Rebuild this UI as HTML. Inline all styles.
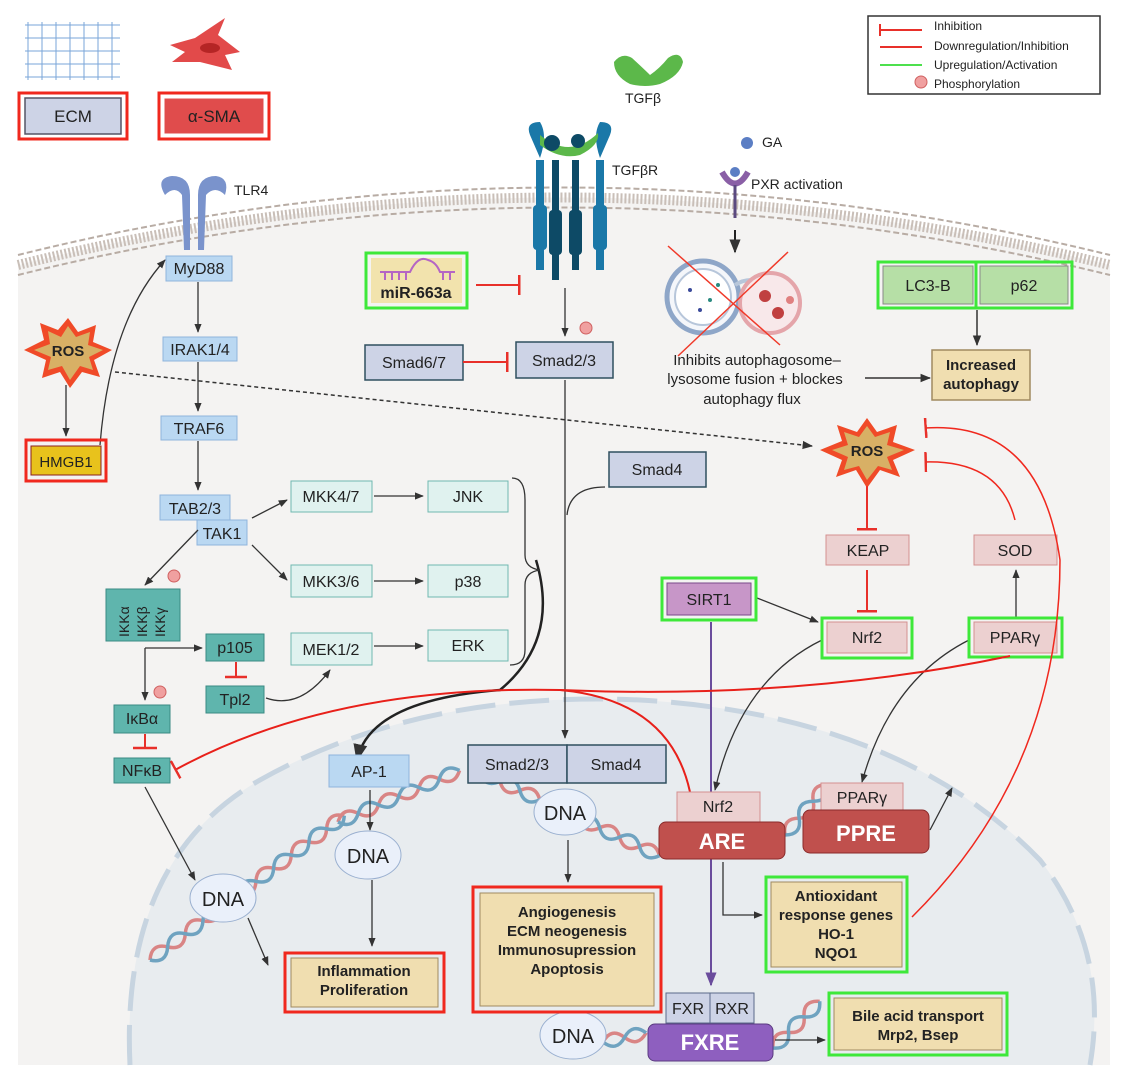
<!DOCTYPE html>
<html><head><meta charset="utf-8"><style>
html,body{margin:0;padding:0;background:#fff;}
svg{display:block;font-family:"Liberation Sans",sans-serif;}
</style></head><body>
<svg width="1128" height="1080" viewBox="0 0 1128 1080" xmlns="http://www.w3.org/2000/svg">
<defs>
<marker id="a" viewBox="0 0 10 10" refX="9" refY="5" markerWidth="7" markerHeight="7" orient="auto"><path d="M0,1 L10,5 L0,9z" fill="#333"/></marker>
<marker id="ap" viewBox="0 0 10 10" refX="9" refY="5" markerWidth="7" markerHeight="7" orient="auto"><path d="M0,1 L10,5 L0,9z" fill="#6a4c9c"/></marker>
<marker id="t" viewBox="0 0 4 20" refX="2" refY="10" markerWidth="4" markerHeight="20" markerUnits="userSpaceOnUse" orient="auto"><rect x="0" y="0" width="2.5" height="20" fill="#e8302a"/></marker>
<path id="h11a" d="M0,0 q11,-13 22,0 t22,0 t22,0 t22,0 t22,0 t22,0 t22,0 t22,0 t22,0 t22,0 t22,0"/>
<path id="h11b" d="M0,0 q11,13 22,0 t22,0 t22,0 t22,0 t22,0 t22,0 t22,0 t22,0 t22,0 t22,0 t22,0"/>
<path id="h6a" d="M0,0 q11,-13 22,0 t22,0 t22,0 t22,0 t22,0 t22,0"/>
<path id="h6b" d="M0,0 q11,13 22,0 t22,0 t22,0 t22,0 t22,0 t22,0"/>
<path id="h9a" d="M0,0 q11,-13 22,0 t22,0 t22,0 t22,0 t22,0 t22,0 t22,0 t22,0 t22,0"/>
<path id="h9b" d="M0,0 q11,13 22,0 t22,0 t22,0 t22,0 t22,0 t22,0 t22,0 t22,0 t22,0"/>
<path id="h3a" d="M0,0 q11,-13 22,0 t22,0 t22,0"/>
<path id="h3b" d="M0,0 q11,13 22,0 t22,0 t22,0"/>
<path id="h2a" d="M0,0 q11,-13 22,0 t22,0"/>
<path id="h2b" d="M0,0 q11,13 22,0 t22,0"/>
</defs>
<!-- cell -->
<path d="M18,265 Q560,130 1110,265 L1110,1065 L18,1065 Z" fill="#f4f3f2"/>
<path d="M18,265 Q560,130 1110,265" fill="none" stroke="#c9bfb8" stroke-width="10" stroke-dasharray="2 2"/>
<path d="M18,255 Q560,120 1110,255" fill="none" stroke="#b8aca4" stroke-width="2" stroke-dasharray="6 3"/>
<path d="M18,275 Q560,140 1110,275" fill="none" stroke="#b8aca4" stroke-width="2" stroke-dasharray="6 3"/>
<rect x="1112" y="430" width="16" height="650" fill="#fff"/>
<!-- nucleus -->
<path d="M130,1065 Q120,860 260,780 Q420,690 640,700 Q900,715 1040,860 Q1110,950 1090,1065 Z" fill="#e8ecef"/>
<path d="M130,1065 Q120,860 260,780 Q420,690 640,700 Q900,715 1040,860 Q1110,950 1090,1065" fill="none" stroke="#c7d4e0" stroke-width="5" stroke-dasharray="40 14"/>

<!-- legend -->
<rect x="868" y="16" width="232" height="78" fill="#fff" stroke="#333" stroke-width="1.5"/>
<line x1="880" y1="30" x2="922" y2="30" stroke="#e8302a" stroke-width="2"/><line x1="880" y1="24" x2="880" y2="36" stroke="#e8302a" stroke-width="2"/>
<line x1="880" y1="47" x2="922" y2="47" stroke="#e8302a" stroke-width="2"/>
<line x1="880" y1="65" x2="922" y2="65" stroke="#4de04d" stroke-width="2"/>
<circle cx="921" cy="82" r="6" fill="#f0a0a0" stroke="#d06060"/>
<g font-size="12" fill="#222"><text x="934" y="30">Inhibition</text><text x="934" y="50">Downregulation/Inhibition</text><text x="934" y="69">Upregulation/Activation</text><text x="934" y="88">Phosphorylation</text></g>

<!-- ECM mesh -->
<g stroke="#7aa6d8" stroke-width="1" fill="none">
<path d="M25,25 H120 M25,38 H120 M25,51 H120 M25,64 H120 M25,77 H120"/>
<path d="M28,22 V80 M42,22 V80 M56,22 V80 M70,22 V80 M84,22 V80 M98,22 V80 M112,22 V80"/>
</g>
<path d="M170,45 L195,38 L225,18 L218,35 L240,52 L225,55 L232,70 L200,62 L172,62 L185,52 Z" fill="#e24a4a"/>
<ellipse cx="210" cy="48" rx="10" ry="5" fill="#b52525"/>
<rect x="19" y="93" width="108" height="46" fill="none" stroke="#f0281e" stroke-width="3"/>
<rect x="25" y="98" width="96" height="36" fill="#cdd3e6" stroke="#556" stroke-width="1.5"/>
<text x="73" y="122" font-size="17" text-anchor="middle" fill="#222">ECM</text>
<rect x="159" y="93" width="110" height="46" fill="none" stroke="#f0281e" stroke-width="3"/>
<rect x="164" y="98" width="100" height="36" fill="#e04c4c" stroke="#fff" stroke-width="1"/>
<text x="214" y="122" font-size="17" text-anchor="middle" fill="#222">α-SMA</text>

<!-- TGFb -->
<path d="M614,62 Q622,52 632,58 Q645,70 650,75 Q660,68 668,58 Q680,50 683,62 Q680,76 660,84 Q645,88 630,84 Q614,76 614,62Z" fill="#5cb84a"/>
<text x="643" y="103" font-size="14" text-anchor="middle" fill="#222">TGFβ</text>
<g>
<rect x="536" y="160" width="8" height="110" fill="#1a78a8"/><rect x="533" y="205" width="14" height="45" rx="4" fill="#1a78a8"/>
<rect x="596" y="160" width="8" height="110" fill="#1a78a8"/><rect x="593" y="205" width="14" height="45" rx="4" fill="#1a78a8"/>
<rect x="552" y="160" width="7" height="120" fill="#0d4a66"/><rect x="549" y="210" width="13" height="45" rx="4" fill="#0d4a66"/>
<rect x="572" y="160" width="7" height="110" fill="#0d4a66"/><rect x="569" y="210" width="13" height="45" rx="4" fill="#0d4a66"/>
<path d="M530,135 Q525,122 540,122 Q548,135 540,158 Z M610,135 Q615,122 600,122 Q592,135 600,158Z" fill="#1a78a8"/>
<path d="M540,135 Q570,160 598,133 Q600,145 580,155 Q560,160 540,145Z" fill="#5cb84a"/>
<circle cx="552" cy="143" r="8" fill="#0d4a66"/><circle cx="578" cy="141" r="7" fill="#0d4a66"/>
</g>
<text x="612" y="175" font-size="14" fill="#222">TGFβR</text>
<circle cx="747" cy="143" r="6" fill="#5b7ec4"/><text x="762" y="147" font-size="14" fill="#222">GA</text>
<path d="M722,172 Q735,195 748,172" fill="none" stroke="#8a5fa6" stroke-width="6"/><circle cx="735" cy="172" r="5" fill="#5b7ec4"/>
<line x1="735" y1="185" x2="735" y2="218" stroke="#5b4a80" stroke-width="3"/>
<text x="751" y="189" font-size="14" fill="#222">PXR activation</text>
<line x1="735" y1="230" x2="735" y2="252" stroke="#222" stroke-width="2" marker-end="url(#a)"/>
<circle cx="703" cy="297" r="36" fill="#f4f6fa" stroke="#8ea6c8" stroke-width="5"/>
<circle cx="703" cy="297" r="28" fill="#fff" stroke="#b7c6da" stroke-width="2"/>
<path d="M735,285 Q750,275 770,285" fill="none" stroke="#b7c6da" stroke-width="4"/>
<circle cx="770" cy="303" r="30" fill="#f8e8ea" stroke="#e4a5aa" stroke-width="4"/>
<circle cx="765" cy="296" r="6" fill="#c04040"/><circle cx="778" cy="313" r="6" fill="#c04040"/><circle cx="790" cy="300" r="4" fill="#e08080"/>
<circle cx="690" cy="290" r="2" fill="#3b4a9a"/><circle cx="710" cy="300" r="2" fill="#2a8a80"/><circle cx="700" cy="310" r="2" fill="#3b4a9a"/><circle cx="718" cy="285" r="2" fill="#2a8a80"/>
<line x1="668" y1="246" x2="780" y2="345" stroke="#f03a2a" stroke-width="1.5"/><line x1="788" y1="252" x2="678" y2="356" stroke="#f03a2a" stroke-width="1.5"/>
<g font-size="15" fill="#222" text-anchor="middle"><text x="757" y="365">Inhibits autophagosome–</text><text x="755" y="384">lysosome fusion + blockes</text><text x="752" y="404">autophagy flux</text></g>
<line x1="865" y1="378" x2="930" y2="378" stroke="#333" stroke-width="1.5" marker-end="url(#a)"/>
<rect x="878" y="262" width="194" height="46" fill="none" stroke="#3ee83a" stroke-width="3"/>
<rect x="883" y="266" width="90" height="38" fill="#b6dfa6" stroke="#888"/><rect x="980" y="266" width="88" height="38" fill="#b6dfa6" stroke="#888"/>
<line x1="976" y1="262" x2="976" y2="308" stroke="#3ee83a" stroke-width="3"/>
<text x="928" y="291" font-size="16" text-anchor="middle" fill="#222">LC3-B</text><text x="1024" y="291" font-size="16" text-anchor="middle" fill="#222">p62</text>
<line x1="977" y1="310" x2="977" y2="345" stroke="#333" stroke-width="1.5" marker-end="url(#a)"/>
<rect x="932" y="350" width="98" height="50" fill="#f0deb0" stroke="#a08a60" stroke-width="1.5"/>
<text x="981" y="370" font-size="15" font-weight="bold" text-anchor="middle" fill="#222">Increased</text><text x="981" y="389" font-size="15" font-weight="bold" text-anchor="middle" fill="#222">autophagy</text>

<!-- TLR4 -->
<path d="M165,195 Q155,178 172,176 Q190,176 190,195 L190,250 L198,250 L198,195 Q198,176 216,176 Q230,178 225,195 Q215,185 206,195 L204,250 L184,250 L182,195 Q175,185 165,195Z" fill="#7a93cc"/>
<text x="234" y="195" font-size="14" fill="#222">TLR4</text>
<g font-size="16" fill="#222" text-anchor="middle">
<rect x="166" y="256" width="66" height="25" fill="#bad8f2" stroke="#8fb4dc"/><text x="199" y="274">MyD88</text>
<rect x="163" y="337" width="74" height="24" fill="#bad8f2" stroke="#8fb4dc"/><text x="200" y="355">IRAK1/4</text>
<rect x="161" y="416" width="76" height="24" fill="#bad8f2" stroke="#8fb4dc"/><text x="199" y="434">TRAF6</text>
<rect x="160" y="495" width="70" height="25" fill="#bad8f2" stroke="#8fb4dc"/><text x="195" y="514">TAB2/3</text>
<rect x="197" y="520" width="50" height="25" fill="#bad8f2" stroke="#8fb4dc"/><text x="222" y="539">TAK1</text>
</g>

<!-- DNA helices -->
<g fill="none" stroke-width="3.5">
<g transform="translate(150,960) rotate(-36.6)"><use href="#h11a" stroke="#d98585"/><use href="#h11b" stroke="#6fa3c0"/></g>
<g transform="translate(338,822) rotate(-23)"><use href="#h6a" stroke="#d98585"/><use href="#h6b" stroke="#6fa3c0"/></g>
<g transform="translate(480,772) rotate(25)"><use href="#h9a" stroke="#d98585"/><use href="#h9b" stroke="#6fa3c0"/></g>
<g transform="translate(785,835) rotate(-50)"><use href="#h3a" stroke="#d98585"/><use href="#h3b" stroke="#6fa3c0"/></g>
<g transform="translate(603,1042) rotate(-12)"><use href="#h2a" stroke="#d98585"/><use href="#h2b" stroke="#6fa3c0"/></g>
<g transform="translate(773,1048) rotate(-45)"><use href="#h3a" stroke="#d98585"/><use href="#h3b" stroke="#6fa3c0"/></g>
</g>

<g stroke="#333" stroke-width="1.3" fill="none" marker-end="url(#a)">
<line x1="198" y1="282" x2="198" y2="332"/><line x1="198" y1="362" x2="198" y2="411"/><line x1="198" y1="441" x2="198" y2="490"/>
<line x1="66" y1="385" x2="66" y2="436"/>
<path d="M100,445 Q110,320 165,260"/>
<line x1="252" y1="518" x2="287" y2="500"/><line x1="252" y1="545" x2="287" y2="580"/>
<line x1="374" y1="496" x2="423" y2="496"/><line x1="374" y1="581" x2="423" y2="581"/><line x1="374" y1="646" x2="423" y2="646"/>
<line x1="198" y1="530" x2="145" y2="585"/>
<path d="M145,648 L145,700"/><path d="M145,648 L202,648"/>
<path d="M266,698 Q300,710 330,670"/>
<path d="M145,787 L195,880"/>
<line x1="565" y1="380" x2="565" y2="738"/>
<line x1="370" y1="790" x2="370" y2="830"/>
<line x1="372" y1="880" x2="372" y2="946"/>
<line x1="568" y1="840" x2="568" y2="882"/>
<line x1="248" y1="918" x2="268" y2="965"/>
<line x1="565" y1="288" x2="565" y2="336"/>
<path d="M567,515 Q570,487 605,487" marker-end="none"/>
<path d="M757,598 L818,622"/>
<path d="M822,640 Q740,680 715,790"/>
<path d="M969,640 Q890,680 862,782"/>
<line x1="1016" y1="617" x2="1016" y2="570"/>
<path d="M723,862 L723,915 L762,915"/>
<line x1="930" y1="830" x2="952" y2="788"/>
<line x1="775" y1="1040" x2="825" y2="1040"/>
</g>
<path d="M536,560 Q560,640 500,690 Q370,700 357,760" fill="none" stroke="#222" stroke-width="2.5" marker-end="url(#a)"/>
<path d="M512,478 Q525,478 525,500 L525,555 Q525,568 540,570 Q525,572 525,585 L525,650 Q525,665 510,665" fill="none" stroke="#333" stroke-width="1.3"/>
<line x1="711" y1="622" x2="711" y2="985" stroke="#6a4c9c" stroke-width="2" marker-end="url(#ap)"/>

<!-- ROS left -->
<polygon points="68,318 78,332 96,325 93,342 112,350 94,360 100,377 82,372 70,388 60,372 42,378 46,360 24,350 44,340 40,323 58,330" fill="#f04a28"/>
<polygon points="68,326 76,337 90,332 88,345 103,350 89,357 93,370 80,366 70,380 62,366 48,370 51,357 34,350 50,344 48,331 61,337" fill="#d8b065"/>
<text x="68" y="356" font-size="15" font-weight="bold" text-anchor="middle" fill="#222">ROS</text>
<rect x="26" y="440" width="80" height="41" fill="none" stroke="#f0281e" stroke-width="3"/>
<rect x="31" y="446" width="70" height="29" fill="#e8c21c" stroke="#8a2020"/>
<text x="66" y="467" font-size="15" text-anchor="middle" fill="#222">HMGB1</text>
<line x1="115" y1="372" x2="812" y2="446" stroke="#333" stroke-width="1.5" stroke-dasharray="4 3" marker-end="url(#a)"/>

<!-- miR -->
<rect x="366" y="253" width="101" height="55" fill="none" stroke="#3ee83a" stroke-width="3"/>
<rect x="371" y="258" width="91" height="45" fill="#f2e3ad"/>
<path d="M380,272 H410 Q418,255 428,260 Q436,262 440,272 H455 M385,272V280 M392,272V280 M399,272V280 M406,272V280 M443,272V280 M450,272V280" fill="none" stroke="#b565c4" stroke-width="2"/>
<text x="416" y="298" font-size="16" font-weight="bold" text-anchor="middle" fill="#222">miR-663a</text>
<line x1="476" y1="285" x2="520" y2="285" stroke="#e8302a" stroke-width="2" marker-end="url(#t)"/>
<rect x="365" y="345" width="98" height="35" fill="#cdd3e6" stroke="#2f4f5f" stroke-width="1.5"/><text x="414" y="368" font-size="16" text-anchor="middle" fill="#222">Smad6/7</text>
<line x1="463" y1="362" x2="508" y2="362" stroke="#e8302a" stroke-width="2" marker-end="url(#t)"/>
<rect x="516" y="342" width="97" height="36" fill="#cdd3e6" stroke="#2f4f5f" stroke-width="1.5"/><text x="564" y="366" font-size="16" text-anchor="middle" fill="#222">Smad2/3</text>
<circle cx="586" cy="328" r="6" fill="#f0a0a0" stroke="#d06060"/>
<rect x="609" y="452" width="97" height="35" fill="#cdd3e6" stroke="#2f4f5f" stroke-width="1.5"/><text x="657" y="475" font-size="16" text-anchor="middle" fill="#222">Smad4</text>

<g font-size="16" fill="#222" text-anchor="middle">
<rect x="291" y="481" width="81" height="31" fill="#e0f2ef" stroke="#70b8b0"/><text x="331" y="502">MKK4/7</text>
<rect x="428" y="481" width="80" height="31" fill="#e0f2ef" stroke="#70b8b0"/><text x="468" y="502">JNK</text>
<rect x="291" y="565" width="81" height="32" fill="#e0f2ef" stroke="#70b8b0"/><text x="331" y="587">MKK3/6</text>
<rect x="428" y="565" width="80" height="32" fill="#e0f2ef" stroke="#70b8b0"/><text x="468" y="587">p38</text>
<rect x="291" y="633" width="81" height="32" fill="#e0f2ef" stroke="#70b8b0"/><text x="331" y="655">MEK1/2</text>
<rect x="428" y="630" width="80" height="31" fill="#e0f2ef" stroke="#70b8b0"/><text x="468" y="651">ERK</text>
</g>
<rect x="106" y="589" width="74" height="52" fill="#5fb5ad" stroke="#3a8a84"/>
<g font-size="14" fill="#222"><text transform="translate(129,637) rotate(-90)">IKKα</text><text transform="translate(147,637) rotate(-90)">IKKβ</text><text transform="translate(165,637) rotate(-90)">IKKγ</text></g>
<circle cx="174" cy="576" r="6" fill="#f0a0a0" stroke="#d06060"/>
<circle cx="160" cy="692" r="6" fill="#f0a0a0" stroke="#d06060"/>
<g font-size="16" fill="#222" text-anchor="middle">
<rect x="206" y="634" width="58" height="27" fill="#5fb5ad" stroke="#3a8a84"/><text x="235" y="653">p105</text>
<rect x="206" y="686" width="58" height="27" fill="#5fb5ad" stroke="#3a8a84"/><text x="235" y="705">Tpl2</text>
<rect x="114" y="705" width="56" height="28" fill="#5fb5ad" stroke="#3a8a84"/><text x="142" y="724">IκBα</text>
<rect x="114" y="758" width="56" height="25" fill="#5fb5ad" stroke="#3a8a84"/><text x="142" y="776">NFκB</text>
</g>
<line x1="236" y1="662" x2="236" y2="677" stroke="#e8302a" stroke-width="2"/><line x1="225" y1="677" x2="247" y2="677" stroke="#e8302a" stroke-width="2.5"/>
<line x1="145" y1="734" x2="145" y2="748" stroke="#e8302a" stroke-width="2"/><line x1="133" y1="748" x2="157" y2="748" stroke="#e8302a" stroke-width="2.5"/>

<!-- right ROS -->
<polygon points="867,418 877,432 897,425 893,442 915,450 893,460 900,477 880,470 867,488 856,470 836,477 842,460 820,450 842,441 837,425 857,432" fill="#f04a28"/>
<polygon points="867,426 875,437 890,432 887,445 904,450 887,457 892,470 878,466 867,480 859,466 844,470 848,457 832,450 848,445 844,432 859,437" fill="#d8b065"/>
<text x="867" y="456" font-size="15" font-weight="bold" text-anchor="middle" fill="#222">ROS</text>
<g font-size="16" fill="#222" text-anchor="middle">
<rect x="826" y="535" width="83" height="30" fill="#ecd0d0" stroke="#d39090"/><text x="868" y="556">KEAP</text>
<rect x="974" y="535" width="83" height="30" fill="#ecd0d0" stroke="#d39090"/><text x="1015" y="556">SOD</text>
<rect x="662" y="578" width="94" height="42" fill="none" stroke="#3ee83a" stroke-width="3"/><rect x="667" y="583" width="84" height="32" fill="#c796c8" stroke="#7a4a8a"/><text x="709" y="605">SIRT1</text>
<rect x="822" y="618" width="90" height="40" fill="none" stroke="#3ee83a" stroke-width="3"/><rect x="827" y="622" width="80" height="31" fill="#ecd0d0" stroke="#d39090"/><text x="867" y="643">Nrf2</text>
<rect x="969" y="618" width="93" height="39" fill="none" stroke="#3ee83a" stroke-width="3"/><rect x="974" y="622" width="83" height="31" fill="#ecd0d0" stroke="#d39090"/><text x="1015" y="643">PPARγ</text>
</g>
<line x1="867" y1="486" x2="867" y2="530" stroke="#e8302a" stroke-width="2" marker-end="url(#t)"/>
<line x1="867" y1="570" x2="867" y2="612" stroke="#e8302a" stroke-width="2" marker-end="url(#t)"/>
<path d="M1010,656 Q800,700 560,690 Q330,685 175,770" fill="none" stroke="#e8201a" stroke-width="2" marker-end="url(#t)"/>
<path d="M560,690 Q670,700 690,792" fill="none" stroke="#e8201a" stroke-width="2"/>
<path d="M912,917 Q1060,770 1060,560 Q1040,420 925,428" fill="none" stroke="#f0281e" stroke-width="1.5" marker-end="url(#t)"/>
<path d="M1015,520 Q1000,460 925,462" fill="none" stroke="#f0281e" stroke-width="1.5" marker-end="url(#t)"/>

<g font-size="20" fill="#222" text-anchor="middle">
<ellipse cx="565" cy="812" rx="31" ry="23" fill="#eaf0fa" stroke="#9ab0d0"/><text x="565" y="820">DNA</text>
<ellipse cx="368" cy="855" rx="33" ry="24" fill="#eaf0fa" stroke="#9ab0d0"/><text x="368" y="863">DNA</text>
<ellipse cx="223" cy="898" rx="33" ry="24" fill="#eaf0fa" stroke="#9ab0d0"/><text x="223" y="906">DNA</text>
<ellipse cx="573" cy="1035" rx="33" ry="24" fill="#eaf0fa" stroke="#9ab0d0"/><text x="573" y="1043">DNA</text>
</g>
<g font-size="16" fill="#222" text-anchor="middle">
<rect x="329" y="755" width="80" height="32" fill="#bad8f2" stroke="#8fb4dc"/><text x="369" y="777">AP-1</text>
<rect x="468" y="745" width="99" height="38" fill="#cdd3e6" stroke="#2f4f5f" stroke-width="1.5"/><text x="517" y="770">Smad2/3</text>
<rect x="567" y="745" width="99" height="38" fill="#cdd3e6" stroke="#2f4f5f" stroke-width="1.5"/><text x="616" y="770">Smad4</text>
<rect x="677" y="792" width="83" height="30" fill="#ecd0d0" stroke="#d39090"/><text x="718" y="812">Nrf2</text>
<rect x="821" y="783" width="82" height="29" fill="#ecd0d0" stroke="#d39090"/><text x="862" y="803">PPARγ</text>
<rect x="666" y="993" width="44" height="30" fill="#cdd3e6" stroke="#5a6a8a"/><text x="688" y="1014">FXR</text>
<rect x="710" y="993" width="44" height="30" fill="#cdd3e6" stroke="#5a6a8a"/><text x="732" y="1014">RXR</text>
</g>
<g font-size="22" font-weight="bold" fill="#fff" text-anchor="middle">
<rect x="659" y="822" width="126" height="37" rx="7" fill="#c0504d" stroke="#8a2a2a"/><text x="722" y="849">ARE</text>
<rect x="803" y="810" width="126" height="43" rx="7" fill="#c0504d" stroke="#8a2a2a"/><text x="866" y="841">PPRE</text>
<rect x="648" y="1024" width="125" height="37" rx="7" fill="#8e5fbf" stroke="#5a3a80"/><text x="710" y="1050">FXRE</text>
</g>
<g font-size="15" font-weight="bold" fill="#222" text-anchor="middle">
<rect x="766" y="877" width="141" height="95" fill="none" stroke="#3ee83a" stroke-width="3"/><rect x="771" y="882" width="131" height="85" fill="#f0deb0" stroke="#a08a60"/>
<text x="836" y="901">Antioxidant</text><text x="836" y="920">response genes</text><text x="836" y="939">HO-1</text><text x="836" y="958">NQO1</text>
<rect x="829" y="993" width="178" height="62" fill="none" stroke="#3ee83a" stroke-width="3"/><rect x="834" y="998" width="168" height="52" fill="#f0deb0" stroke="#a08a60"/>
<text x="918" y="1021">Bile acid transport</text><text x="918" y="1040">Mrp2, Bsep</text>
<rect x="473" y="887" width="188" height="125" fill="none" stroke="#f0281e" stroke-width="3"/><rect x="480" y="893" width="174" height="113" fill="#f0deb0" stroke="#a08a60"/>
<text x="567" y="917">Angiogenesis</text><text x="567" y="936">ECM neogenesis</text><text x="567" y="955">Immunosupression</text><text x="567" y="974">Apoptosis</text>
<rect x="285" y="953" width="159" height="59" fill="none" stroke="#f0281e" stroke-width="3"/><rect x="291" y="958" width="147" height="49" fill="#f0deb0" stroke="#a08a60"/>
<text x="364" y="976">Inflammation</text><text x="364" y="995">Proliferation</text>
</g>
</svg>
</body></html>
